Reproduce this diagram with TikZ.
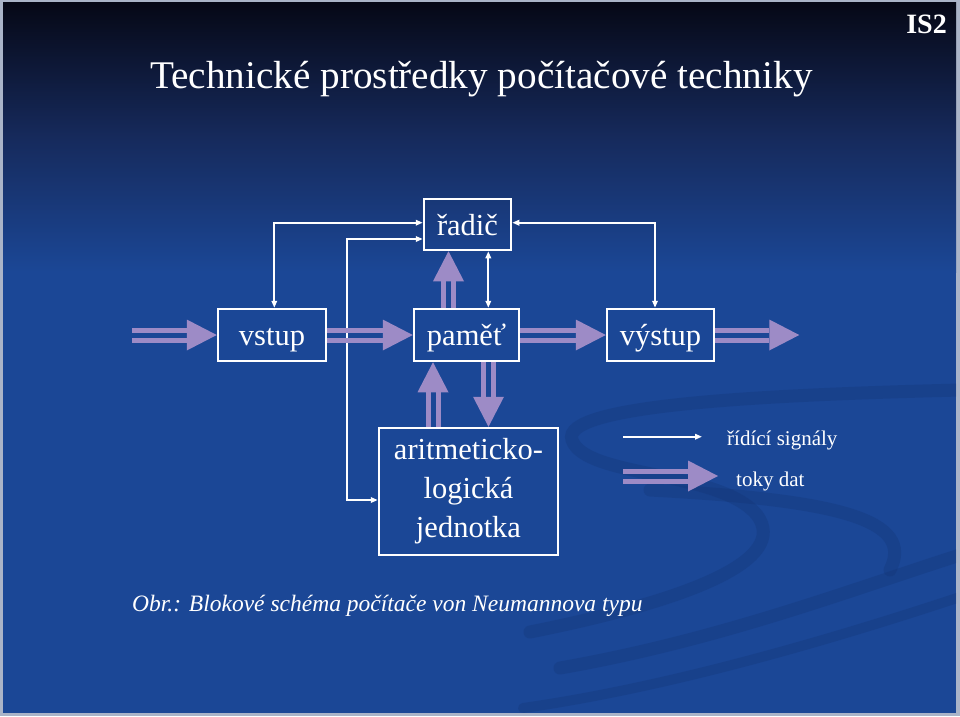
\documentclass[tikz,border=0pt]{standalone}
\usepackage{fontspec}
\setmainfont{Liberation Serif}
\usetikzlibrary{calc,arrows.meta}
\definecolor{bgblue}{RGB}{27,71,150}
\definecolor{bgdark}{RGB}{6,8,22}
\definecolor{bgmid}{RGB}{22,42,92}
\definecolor{dcol}{RGB}{157,139,198}
\definecolor{swoosh}{RGB}{18,50,112}
\definecolor{edgecol}{RGB}{170,180,200}
\newcommand\dataarr[2]{%
  \coordinate (tmpA) at (#1);
  \coordinate (tmpB) at (#2);
  \coordinate (tmpC) at ($(tmpB)!30pt!(tmpA)$);
  \draw[shaft] ($(tmpA)!5pt!90:(tmpC)$) -- ($(tmpC)!5pt!-90:(tmpA)$);
  \draw[shaft] ($(tmpA)!5pt!-90:(tmpC)$) -- ($(tmpC)!5pt!90:(tmpA)$);
  \fill[dcol] (tmpB) -- ($(tmpC)!15.5pt!90:(tmpB)$) -- ($(tmpC)!15.5pt!-90:(tmpB)$) -- cycle;
}
\tikzset{
  blk/.style={draw=white, line width=2.5pt, text=white, inner sep=0pt,
    font=\fontsize{30.5}{39}\selectfont, text height=27pt, text depth=5.5pt},
  shaft/.style={draw=dcol, line width=5pt},
  ctl/.style={draw=white, line width=2pt},
  ctltip/.tip={Triangle[length=7pt,width=5.5pt]},
  swo/.style={draw=swoosh, line width=13pt, opacity=0.28, line cap=round},
}
\begin{document}
\begin{tikzpicture}[x=1pt,y=-1pt]
% background
\useasboundingbox (0,0) rectangle (960,716);
\fill[edgecol] (0,0) rectangle (960,716);
\fill[bgblue] (3,2) rectangle (956,713);
\shade[top color=bgdark, bottom color=bgblue, middle color=bgmid] (3,2) rectangle (956,272);
% decorative swooshes
\begin{scope}
\clip (3,2) rectangle (956,713);
\draw[swo] (960,390) .. controls (760,395) and (560,405) .. (572,440)
  .. controls (585,478) and (720,470) .. (757,515)
  .. controls (790,560) and (690,600) .. (530,632);
\draw[swo] (960,555) .. controls (850,590) and (720,640) .. (560,668);
\draw[swo] (650,490) .. controls (840,500) and (915,520) .. (890,570);
\draw[swo, line width=10pt] (960,597) .. controls (800,650) and (650,690) .. (523,708);
\end{scope}

% titles
\node[anchor=base west, text=white, inner sep=0pt, font=\fontsize{39.2}{41}\selectfont] (title) at (150,88) {Technické prostředky počítačové techniky};
\node[anchor=base east, text=white, inner sep=0pt, font=\fontsize{28}{30}\selectfont\bfseries] (is2) at (947,33) {IS2};

% blocks
\node[blk, minimum width=87pt, minimum height=51pt] (radic) at (467.5,224.5) {řadič};
\node[blk, minimum width=108pt, minimum height=52pt] (vstup) at (272,335) {vstup};
\node[blk, minimum width=105pt, minimum height=52pt] (pamet) at (466.5,335) {paměť};
\node[blk, minimum width=107pt, minimum height=52pt] (vystup) at (660.5,335) {výstup};
\node[blk, minimum width=179pt, minimum height=127pt, align=center, text height=, text depth=] (alu) at (468.5,491.5) {aritmeticko-\\logická\\jednotka};

% helper coordinates
\coordinate (c1) at (274.3,222.7);
\coordinate (c2) at (347,239);
\coordinate (cA) at (0,500);
\coordinate (c3) at (655,222.7);
\coordinate (c5) at (488.3,0);
\coordinate (xp) at (448.5,0);
\coordinate (xa) at (433,0);
\coordinate (xm) at (488.5,0);
\coordinate (inA) at (132,335);

% control signals
\draw[ctl, ctltip-ctltip] (vstup.north -| c1) |- (radic.west |- c1);
\draw[ctl, ctltip-ctltip] (alu.west |- cA) -| (c2) -- (radic.west |- c2);
\draw[ctl, ctltip-ctltip] (radic.east |- c3) -| (vystup.north -| c3);
\draw[ctl, ctltip-ctltip] (radic.south -| c5) -- (pamet.north -| c5);

% data flows
\dataarr{inA}{vstup.west}
\dataarr{vstup.east}{pamet.west}
\dataarr{pamet.east}{vystup.west}
\coordinate (outB) at ($(vystup.east)+(84,0)$);
\dataarr{vystup.east}{outB}
\dataarr{pamet.north -| xp}{radic.south -| xp}
\dataarr{alu.north -| xa}{pamet.south -| xa}
\dataarr{pamet.south -| xm}{alu.north -| xm}

% legend
\coordinate (l1a) at (623,436.7);
\coordinate (l1b) at (702,436.7);
\draw[ctl, -ctltip] (l1a) -- (l1b);
\coordinate (l2a) at (623,476);
\coordinate (l2b) at (718,476);
\dataarr{l2a}{l2b}
\node[anchor=base west, text=white, inner sep=0pt, font=\fontsize{21}{24}\selectfont] (leg1) at (727,445) {řídící signály};
\node[anchor=base west, text=white, inner sep=0pt, font=\fontsize{21}{24}\selectfont] (leg2) at (736,486) {toky dat};

% caption
\node[anchor=base west, text=white, inner sep=0pt, font=\fontsize{23.5}{26}\selectfont\itshape] (cap) at (132,611) {Obr.: Blokové schéma počítače von Neumannova typu};
\end{tikzpicture}
\end{document}
